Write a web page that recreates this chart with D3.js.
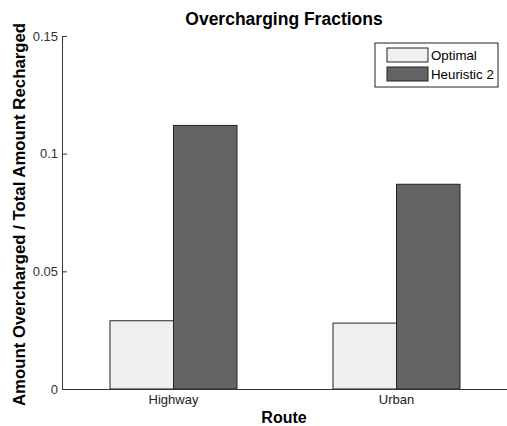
<!DOCTYPE html>
<html>
<head>
<meta charset="utf-8">
<script src="https://cdn.jsdelivr.net/npm/d3@7"></script>
<style>
  body { margin: 0; background: #fff; }
  text { font-family: "Liberation Sans", Arial, sans-serif; }
</style>
</head>
<body>
<script>
// data
var routes = ["Highway", "Urban"];
var seriesNames = ["Optimal", "Heuristic 2"];
var optimal = [0.029, 0.028];
var heuristic2 = [0.112, 0.087];
var yTicks = [0, 0.05, 0.1, 0.15];
var yTickLabels = ["0", "0.05", "0.1", "0.15"];

var seriesValues = [optimal, heuristic2];
var seriesColors = ["#f0f0f0", "#646464"];

var svgWidth = 507;
var svgHeight = 426;
var margin = {top: 36, right: -1, bottom: 37, left: 62};
var width = svgWidth - margin.left - margin.right;
var height = svgHeight - margin.top - margin.bottom;

var svg = d3.select("body")
  .append("svg")
  .attr("width", svgWidth)
  .attr("height", svgHeight);

var chartGroup = svg.append("g")
  .attr("transform", `translate(${margin.left}, ${margin.top})`);

// scales
var x0 = d3.scaleBand()
  .domain(routes)
  .range([0, width])
  .padding(0);

var x1 = d3.scaleBand()
  .domain(seriesNames)
  .range([0, x0.bandwidth()])
  .paddingInner(0)
  .paddingOuter(0.756);

var y = d3.scaleLinear()
  .domain([0, 0.15])
  .range([height, 0]);

// bars
var rows = [];
routes.forEach(function (r, i) {
  seriesNames.forEach(function (s, j) {
    rows.push({route: r, series: s, value: seriesValues[j][i], color: seriesColors[j]});
  });
});

chartGroup.selectAll("rect.bar")
  .data(rows)
  .enter()
  .append("rect")
  .attr("class", "bar")
  .attr("x", d => x0(d.route) + x1(d.series))
  .attr("y", d => y(d.value))
  .attr("width", x1.bandwidth())
  .attr("height", d => height - y(d.value))
  .attr("fill", d => d.color)
  .attr("stroke", "#222")
  .attr("stroke-width", 1);

// axes
var leftAxis = d3.axisRight(y)
  .tickValues(yTicks)
  .tickFormat((d, i) => yTickLabels[i])
  .tickSize(5)
  .tickSizeOuter(0);

var yAxisG = chartGroup.append("g").call(leftAxis);
yAxisG.select(".domain").attr("stroke", "#333");
yAxisG.selectAll(".tick line").attr("stroke", "#333");
yAxisG.selectAll(".tick text")
  .attr("x", -4)
  .attr("text-anchor", "end")
  .style("font-size", "13px")
  .attr("fill", "#333");

var bottomAxis = d3.axisBottom(x0)
  .tickSize(0)
  .tickSizeOuter(0);

var xAxisG = chartGroup.append("g")
  .attr("transform", `translate(0, ${height})`)
  .call(bottomAxis);
xAxisG.select(".domain").attr("stroke", "#333");
xAxisG.selectAll(".tick text")
  .attr("y", 6)
  .style("font-size", "13px")
  .attr("fill", "#222");

// title and labels
svg.append("text")
  .attr("x", margin.left + width / 2 - 1)
  .attr("y", 25)
  .attr("text-anchor", "middle")
  .style("font-size", "17.5px")
  .style("font-weight", "bold")
  .text("Overcharging Fractions");

svg.append("text")
  .attr("transform", `translate(25, ${margin.top + height / 2 + 2}) rotate(-90)`)
  .attr("text-anchor", "middle")
  .style("font-size", "16.8px")
  .style("font-weight", "bold")
  .text("Amount Overcharged / Total Amount Recharged");

svg.append("text")
  .attr("x", margin.left + width / 2 - 1)
  .attr("y", 423)
  .attr("text-anchor", "middle")
  .style("font-size", "16px")
  .style("font-weight", "bold")
  .text("Route");

// legend
var legend = svg.append("g").attr("transform", "translate(375, 43)");
legend.append("rect")
  .attr("width", 123)
  .attr("height", 44)
  .attr("fill", "#fff")
  .attr("stroke", "#222");

var legendItems = legend.selectAll("g.item")
  .data(seriesNames)
  .enter()
  .append("g")
  .attr("class", "item")
  .attr("transform", (d, i) => `translate(12, ${5 + i * 19})`);

legendItems.append("rect")
  .attr("width", 41)
  .attr("height", 14)
  .attr("fill", (d, i) => seriesColors[i])
  .attr("stroke", "#222");

legendItems.append("text")
  .attr("x", 44)
  .attr("y", 12)
  .style("font-size", "13.3px")
  .text(d => d);
</script>
</body>
</html>
